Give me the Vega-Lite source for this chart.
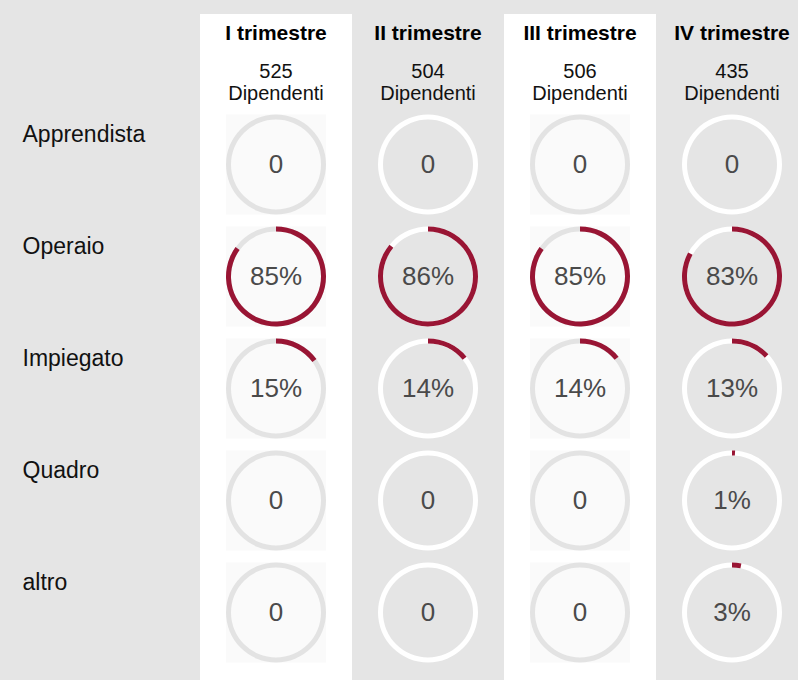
{
  "$schema": "https://vega.github.io/schema/vega-lite/v6.json",
  "width": 598,
  "height": 666,
  "autosize": {"type": "none"},
  "padding": {"left": 200, "top": 14, "right": 0, "bottom": 0},
  "background": "#e5e5e5",
  "config": {
    "view": {"stroke": null},
    "font": "Liberation Sans",
    "axisX": {"disable": true},
    "axisY": {
      "labelAlign": "left",
      "labelPadding": 178,
      "ticks": false,
      "tickSize": 0,
      "domain": false,
      "grid": false,
      "labelFontSize": 23,
      "labelColor": "#111111",
      "labelOffset": -23,
      "labelBaseline": "alphabetic",
      "labelFont": "Liberation Sans",
      "labelLimit": 190,
      "labelExpr": "datum.value === 'header' ? '' : datum.value"
    }
  },
  "datasets": {
    "quarters": [
      {"quarter": "I trimestre", "n": 525, "unit": "Dipendenti"},
      {"quarter": "II trimestre", "n": 504, "unit": "Dipendenti"},
      {"quarter": "III trimestre", "n": 506, "unit": "Dipendenti"},
      {"quarter": "IV trimestre", "n": 435, "unit": "Dipendenti"}
    ],
    "cells": [
      {"quarter": "I trimestre", "role": "Apprendista", "pct": 0},
      {"quarter": "II trimestre", "role": "Apprendista", "pct": 0},
      {"quarter": "III trimestre", "role": "Apprendista", "pct": 0},
      {"quarter": "IV trimestre", "role": "Apprendista", "pct": 0},
      {"quarter": "I trimestre", "role": "Operaio", "pct": 0.85},
      {"quarter": "II trimestre", "role": "Operaio", "pct": 0.86},
      {"quarter": "III trimestre", "role": "Operaio", "pct": 0.85},
      {"quarter": "IV trimestre", "role": "Operaio", "pct": 0.83},
      {"quarter": "I trimestre", "role": "Impiegato", "pct": 0.15},
      {"quarter": "II trimestre", "role": "Impiegato", "pct": 0.14},
      {"quarter": "III trimestre", "role": "Impiegato", "pct": 0.14},
      {"quarter": "IV trimestre", "role": "Impiegato", "pct": 0.13},
      {"quarter": "I trimestre", "role": "Quadro", "pct": 0},
      {"quarter": "II trimestre", "role": "Quadro", "pct": 0},
      {"quarter": "III trimestre", "role": "Quadro", "pct": 0},
      {"quarter": "IV trimestre", "role": "Quadro", "pct": 0.01},
      {"quarter": "I trimestre", "role": "altro", "pct": 0},
      {"quarter": "II trimestre", "role": "altro", "pct": 0},
      {"quarter": "III trimestre", "role": "altro", "pct": 0},
      {"quarter": "IV trimestre", "role": "altro", "pct": 0.03}
    ]
  },
  "layer": [
    {
      "data": {"name": "quarters"},
      "transform": [{"filter": "datum.quarter === 'I trimestre' || datum.quarter === 'III trimestre'"}],
      "mark": {"type": "rect", "color": "#ffffff"},
      "encoding": {
        "x": {"field": "quarter", "type": "nominal", "title": null,
              "scale": {"type": "band", "domain": ["I trimestre", "II trimestre", "III trimestre", "IV trimestre"], "range": [0, 608], "paddingInner": 0, "paddingOuter": 0}}
      }
    },
    {
      "data": {"name": "cells"},
      "transform": [{"filter": "datum.quarter === 'I trimestre' || datum.quarter === 'III trimestre'"}],
      "mark": {"type": "point", "shape": "square", "size": 10000, "filled": true, "color": "#fafafa", "opacity": 1, "strokeWidth": 0},
      "encoding": {
        "x": {"field": "quarter", "type": "nominal", "title": null, "bandPosition": 0.5},
        "y": {"field": "role", "type": "nominal", "title": null, "bandPosition": 0.5,
              "scale": {"type": "band", "domain": ["header", "Apprendista", "Operaio", "Impiegato", "Quadro", "altro"], "range": [-17.5, 654.5], "paddingInner": 0, "paddingOuter": 0}}
      }
    },
    {
      "data": {"name": "cells"},
      "mark": {"type": "arc", "theta": 0, "theta2": 6.2832, "radius": 50, "radius2": 45},
      "encoding": {
        "x": {"field": "quarter", "type": "nominal", "title": null, "bandPosition": 0.5},
        "y": {"field": "role", "type": "nominal", "title": null, "bandPosition": 0.5},
        "color": {
          "condition": {"test": "datum.quarter === 'I trimestre' || datum.quarter === 'III trimestre'", "value": "#e3e3e3"},
          "value": "#ffffff"
        }
      }
    },
    {
      "data": {"name": "cells"},
      "mark": {"type": "arc", "radius": 50, "radius2": 45, "color": "#991534"},
      "encoding": {
        "x": {"field": "quarter", "type": "nominal", "title": null, "bandPosition": 0.5},
        "y": {"field": "role", "type": "nominal", "title": null, "bandPosition": 0.5},
        "theta": {"field": "pct", "type": "quantitative", "stack": null, "scale": {"domain": [0, 1], "range": [0, 6.283185]}},
        "theta2": {"datum": 0}
      }
    },
    {
      "data": {"name": "cells"},
      "mark": {"type": "text", "fontSize": 26, "color": "#4a4a4a", "baseline": "middle", "align": "center"},
      "encoding": {
        "x": {"field": "quarter", "type": "nominal", "title": null, "bandPosition": 0.5},
        "y": {"field": "role", "type": "nominal", "title": null, "bandPosition": 0.5},
        "text": {"condition": {"test": "datum.pct === 0", "value": "0"}, "field": "pct", "type": "quantitative", "format": ".0%"}
      }
    },
    {
      "data": {"name": "quarters"},
      "mark": {"type": "text", "fontSize": 21, "fontWeight": "bold", "color": "#000000", "baseline": "alphabetic", "align": "center", "dy": -12.5},
      "encoding": {
        "x": {"field": "quarter", "type": "nominal", "title": null, "bandPosition": 0.5},
        "y": {"datum": "header", "type": "nominal", "title": null, "bandPosition": 0.5},
        "text": {"field": "quarter"}
      }
    },
    {
      "data": {"name": "quarters"},
      "mark": {"type": "text", "fontSize": 20, "color": "#111111", "baseline": "alphabetic", "align": "center", "dy": 25.5},
      "encoding": {
        "x": {"field": "quarter", "type": "nominal", "title": null, "bandPosition": 0.5},
        "y": {"datum": "header", "type": "nominal", "title": null, "bandPosition": 0.5},
        "text": {"field": "n"}
      }
    },
    {
      "data": {"name": "quarters"},
      "mark": {"type": "text", "fontSize": 20, "color": "#111111", "baseline": "alphabetic", "align": "center", "dy": 47.5},
      "encoding": {
        "x": {"field": "quarter", "type": "nominal", "title": null, "bandPosition": 0.5},
        "y": {"datum": "header", "type": "nominal", "title": null, "bandPosition": 0.5},
        "text": {"field": "unit"}
      }
    }
  ]
}
